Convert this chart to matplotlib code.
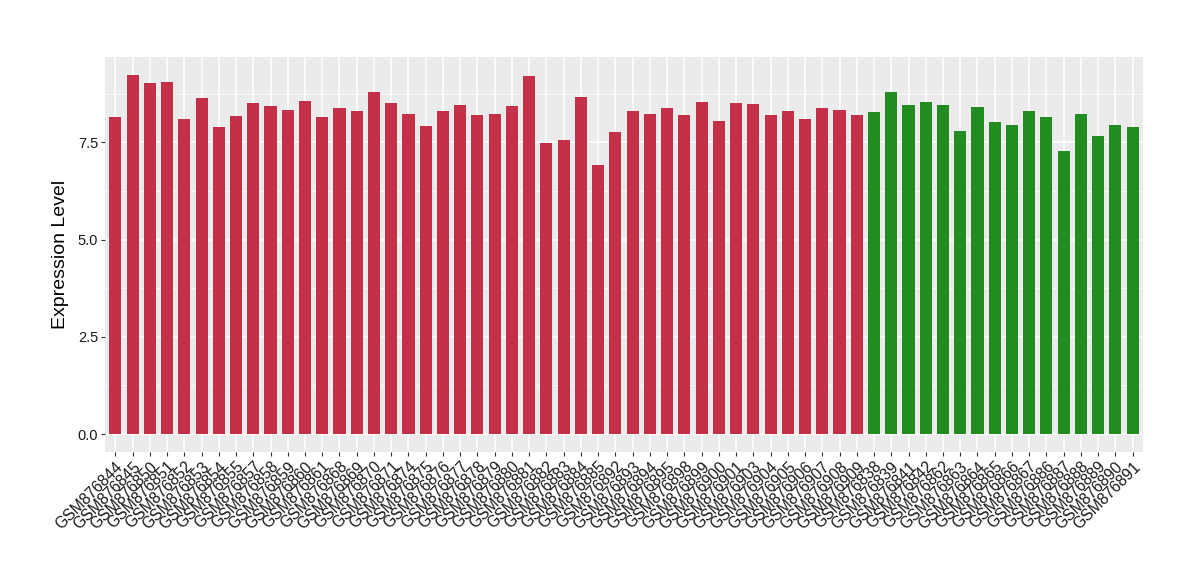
import matplotlib
matplotlib.use("Agg")
import matplotlib.pyplot as plt
from matplotlib.ticker import MultipleLocator

plt.rcParams['font.family'] = ['Liberation Sans', 'DejaVu Sans']

# sample ids, grouped as drawn (red group first, then green group)
red_samples = ["GSM876844", "GSM876845", "GSM876850", "GSM876851", "GSM876852",
               "GSM876853", "GSM876854", "GSM876855", "GSM876857", "GSM876858",
               "GSM876859", "GSM876860", "GSM876861", "GSM876868", "GSM876869",
               "GSM876870", "GSM876871", "GSM876874", "GSM876875", "GSM876876",
               "GSM876877", "GSM876878", "GSM876879", "GSM876880", "GSM876881",
               "GSM876882", "GSM876883", "GSM876884", "GSM876885", "GSM876892",
               "GSM876893", "GSM876894", "GSM876895", "GSM876898", "GSM876899",
               "GSM876900", "GSM876901", "GSM876903", "GSM876904", "GSM876905",
               "GSM876906", "GSM876907", "GSM876908", "GSM876909"]
red_values = [8.15, 9.23, 9.03, 9.06, 8.10, 8.65, 7.90, 8.18, 8.52, 8.44,
              8.34, 8.57, 8.15, 8.39, 8.31, 8.80, 8.52, 8.23, 7.92, 8.31,
              8.46, 8.21, 8.23, 8.44, 9.21, 7.48, 7.56, 8.67, 6.91, 7.77,
              8.31, 8.23, 8.39, 8.21, 8.54, 8.05, 8.52, 8.49, 8.21, 8.31,
              8.10, 8.39, 8.34, 8.21]

green_samples = ["GSM876838", "GSM876839", "GSM876841", "GSM876842", "GSM876862",
                 "GSM876863", "GSM876864", "GSM876865", "GSM876866", "GSM876867",
                 "GSM876886", "GSM876887", "GSM876888", "GSM876889", "GSM876890",
                 "GSM876891"]
green_values = [8.28, 8.78, 8.46, 8.54, 8.46, 7.79, 8.41, 8.02, 7.95, 8.31,
                8.15, 7.28, 8.23, 7.66, 7.95, 7.90]

samples = red_samples + green_samples
values = red_values + green_values
colors = ['#C33149'] * len(red_samples) + ['#228B22'] * len(green_samples)

fig = plt.figure(figsize=(12, 5.8), dpi=100)
ax = fig.add_axes([0.0875, 0.2207, 0.865, 0.681])
ax.set_facecolor('#EBEBEB')

x = list(range(len(samples)))
ax.bar(x, values, width=0.7, color=colors, zorder=3)

ymax = max(values)
pad = ymax * 0.05
ax.set_ylim(-pad, ymax + pad)
ax.set_xlim(-0.6, len(samples) - 0.4)

ax.yaxis.set_minor_locator(MultipleLocator(1.25))
ax.set_yticks([0, 2.5, 5.0, 7.5])
ax.set_yticklabels(['0.0', '2.5', '5.0', '7.5'])
ax.set_xticks(x)
ax.set_xticklabels(samples, rotation=45, ha='right', rotation_mode='anchor')

ax.grid(which='major', color='white', linewidth=1.1, zorder=0)
ax.grid(which='minor', axis='y', color='white', linewidth=0.5, zorder=0)
ax.set_axisbelow(True)

for s in ax.spines.values():
    s.set_visible(False)
ax.tick_params(axis='both', which='major', length=3, color='#333333',
               labelsize=10.5, labelcolor='#1A1A1A', pad=2)
ax.tick_params(axis='x', labelsize=11.3)
ax.tick_params(axis='y', which='minor', length=0)

ax.set_ylabel('Expression Level', fontsize=14, labelpad=6)

fig.savefig('out.png', dpi=100)
